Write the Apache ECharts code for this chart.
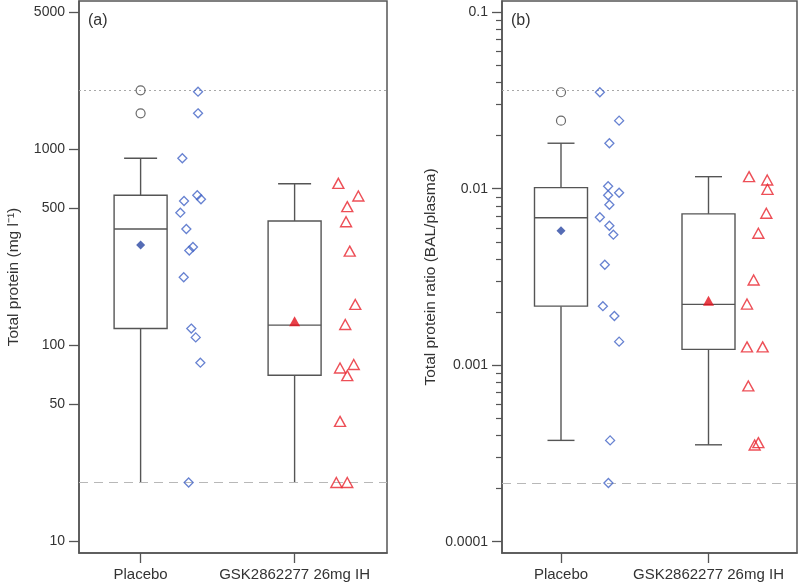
<!DOCTYPE html>
<html><head><meta charset="utf-8">
<script src="https://cdn.jsdelivr.net/npm/echarts@6/dist/echarts.min.js"></script>
<style>html,body{margin:0;padding:0;background:#fff}#c{width:800px;height:583px}</style>
</head><body><div id="c"></div>
<script>
// ---------- data ----------
const categories = ['Placebo', 'GSK2862277 26mg IH'];
const categoryPos = [1, 2];

// Panel (a): total protein (mg l-1)
const aTicks = [10, 50, 100, 500, 1000, 5000];
// [lower whisker, Q1, median, Q3, upper whisker]
const aBoxPlacebo = [20, 122, 393, 584, 902];
const aBoxGSK = [20, 70.5, 127, 432, 669];
const aMean = [326, 133];
const aOutliersPlacebo = [2005, 1530];
const aPlacebo = [1972, 1530, 902, 584, 557, 546, 476, 393, 318, 305, 223, 122, 110, 81.7, 20];
const aPlaceboJitter = [0.373, 0.373, 0.271, 0.368, 0.392, 0.282, 0.258, 0.297, 0.340, 0.316, 0.280, 0.329, 0.358, 0.388, 0.312];
const aGSK = [672, 579, 511, 428, 303, 162, 128, 80, 76.8, 70.2, 41, 20, 20];
const aGSKJitter = [0.284, 0.414, 0.342, 0.334, 0.358, 0.394, 0.329, 0.384, 0.295, 0.342, 0.295, 0.271, 0.342];
const aUpperLimit = 2000;
const aLowerLimit = 20;

// Panel (b): total protein ratio (BAL/plasma)
const bTicks = [0.0001, 0.001, 0.01, 0.1];
const bMinorTicks = [0.0002, 0.0003, 0.0004, 0.0005, 0.0006, 0.0007, 0.0008, 0.0009,
                     0.002, 0.003, 0.004, 0.005, 0.006, 0.007, 0.008, 0.009,
                     0.02, 0.03, 0.04, 0.05, 0.06, 0.07, 0.08, 0.09];
const bBoxPlacebo = [0.000375, 0.00216, 0.00685, 0.01014, 0.0181];
const bBoxGSK = [0.000354, 0.00123, 0.00221, 0.0072, 0.0117];
const bMean = [0.00578, 0.00232];
const bOutliersPlacebo = [0.0352, 0.0243];
const bPlacebo = [0.0352, 0.0243, 0.0181, 0.01032, 0.00949, 0.00918, 0.00811, 0.00689, 0.00617, 0.00549, 0.00371, 0.00216, 0.0019, 0.00136, 0.000375, 0.000215];
const bPlaceboJitter = [0.2635, 0.394, 0.328, 0.3195, 0.394, 0.3195, 0.328, 0.2635, 0.328, 0.355, 0.297, 0.284, 0.362, 0.394, 0.333, 0.3215];
const bGSK = [0.0117, 0.0112, 0.00992, 0.00726, 0.00559, 0.00304, 0.00222, 0.00127, 0.00127, 0.000763, 0.000364, 0.000353];
const bGSKJitter = [0.275, 0.398, 0.400, 0.392, 0.338, 0.306, 0.261, 0.261, 0.367, 0.270, 0.338, 0.313];
const bUpperLimit = 0.036;
const bLowerLimit = 0.000215;

// ---------- helpers ----------
const L = Math.log10;
const TXT = '#333';
const LINE = '#555';
const BLUE = '#4163c6';
const RED = '#e8232d';
const FONT = '"Liberation Sans", Arial, sans-serif';

function pts(vals, jit, base) { return vals.map((v, i) => [base + jit[i], L(v)]); }
function boxRow(x, arr) { return [x].concat(arr.map(L)); }
function labelFor(ticks) {
  return function (v) {
    let best = ticks[0];
    for (const t of ticks) if (Math.abs(L(t) - v) < Math.abs(L(best) - v)) best = t;
    return String(best);
  };
}
function boxRender(capW, lowCap) {
  return function (params, api) {
    const x = api.value(0);
    const pLo = api.coord([x, api.value(1)]);
    const pQ1 = api.coord([x, api.value(2)]);
    const pMed = api.coord([x, api.value(3)]);
    const pQ3 = api.coord([x, api.value(4)]);
    const pHi = api.coord([x, api.value(5)]);
    const cx = pLo[0], hw = 26.5, cw = capW / 2;
    const st = { stroke: LINE, lineWidth: 1.4, fill: null };
    const ch = [
      { type: 'line', shape: { x1: cx, y1: pQ3[1], x2: cx, y2: pHi[1] }, style: st },
      { type: 'line', shape: { x1: cx, y1: pQ1[1], x2: cx, y2: pLo[1] }, style: st },
      { type: 'line', shape: { x1: cx - cw, y1: pHi[1], x2: cx + cw, y2: pHi[1] }, style: st },
      { type: 'rect', shape: { x: cx - hw, y: pQ3[1], width: 2 * hw, height: pQ1[1] - pQ3[1] }, style: { stroke: LINE, lineWidth: 1.4, fill: '#fff' } },
      { type: 'line', shape: { x1: cx - hw, y1: pMed[1], x2: cx + hw, y2: pMed[1] }, style: st }
    ];
    if (lowCap) ch.push({ type: 'line', shape: { x1: cx - cw, y1: pLo[1], x2: cx + cw, y2: pLo[1] }, style: st });
    return { type: 'group', children: ch };
  };
}
function refLines(upper, lower) {
  return {
    silent: true, symbol: 'none', label: { show: false },
    data: [
      { yAxis: L(upper), lineStyle: { type: [2, 3], color: '#a8a8a8', width: 1 } },
      { yAxis: L(lower), lineStyle: { type: [9, 6], color: '#b8b8b8', width: 1 } }
    ]
  };
}
function xAxis(gi) {
  return {
    type: 'value', gridIndex: gi, min: 0.6, max: 2.6,
    axisLine: { show: true, lineStyle: { color: LINE, width: 1.5 } },
    axisTick: { show: true, customValues: categoryPos, length: 10, lineStyle: { color: LINE, width: 1.3 } },
    axisLabel: { customValues: categoryPos, margin: 14, color: TXT, fontSize: 15, fontFamily: FONT,
      formatter: v => categories[Math.round(v) - 1] || '' },
    splitLine: { show: false }
  };
}

const chart = echarts.init(document.getElementById('c'), null, { renderer: 'canvas' });
const option = {
  animation: false,
  backgroundColor: '#fff',
  textStyle: { fontFamily: FONT },
  title: [
    { text: '(a)', left: 83, top: 8, textStyle: { fontSize: 16, fontWeight: 'normal', color: TXT, fontFamily: FONT } },
    { text: '(b)', left: 506, top: 8, textStyle: { fontSize: 16, fontWeight: 'normal', color: TXT, fontFamily: FONT } }
  ],
  grid: [
    { left: 79, right: 413, top: 1, bottom: 30, show: true, borderColor: LINE, borderWidth: 1.5, backgroundColor: 'transparent' },
    { left: 502, right: 3, top: 1, bottom: 30, show: true, borderColor: LINE, borderWidth: 1.5, backgroundColor: 'transparent' }
  ],
  xAxis: [xAxis(0), xAxis(1)],
  yAxis: [
    {
      type: 'value', gridIndex: 0, position: 'left', min: 0.9413, max: 3.7577,
      name: 'Total protein (mg l\u207B\u00B9)', nameLocation: 'middle', nameGap: 57,
      nameTextStyle: { fontSize: 15.5, color: TXT, fontFamily: FONT },
      axisLine: { show: true, lineStyle: { color: LINE, width: 1.5 } },
      axisTick: { show: true, customValues: aTicks.map(L), length: 10, lineStyle: { color: LINE, width: 1.3 } },
      axisLabel: { customValues: aTicks.map(L), margin: 14, color: TXT, fontSize: 14, fontFamily: FONT, formatter: labelFor(aTicks) },
      splitLine: { show: false }
    },
    {
      type: 'value', gridIndex: 1, position: 'left', min: -4.064, max: -0.9365,
      name: 'Total protein ratio (BAL/plasma)', nameLocation: 'middle', nameGap: 63,
      nameTextStyle: { fontSize: 15.5, color: TXT, fontFamily: FONT },
      axisLine: { show: true, lineStyle: { color: LINE, width: 1.5 } },
      axisTick: { show: true, customValues: bTicks.map(L), length: 10, lineStyle: { color: LINE, width: 1.3 } },
      axisLabel: { customValues: bTicks.map(L), margin: 14, color: TXT, fontSize: 14, fontFamily: FONT, formatter: labelFor(bTicks) },
      splitLine: { show: false }
    },
    {
      type: 'value', gridIndex: 1, position: 'left', offset: 0, min: -4.064, max: -0.9365,
      axisLine: { show: false },
      axisTick: { show: true, customValues: bMinorTicks.map(L), length: 6, lineStyle: { color: LINE, width: 1.2 } },
      axisLabel: { show: false, customValues: bMinorTicks.map(L) },
      splitLine: { show: false }
    }
  ],
  series: [
    // ----- panel (a) -----
    {
      type: 'custom', xAxisIndex: 0, yAxisIndex: 0, z: 2,
      renderItem: boxRender(33, false),
      encode: { x: 0, y: [1, 2, 3, 4, 5] },
      data: [boxRow(categoryPos[0], aBoxPlacebo), boxRow(categoryPos[1], aBoxGSK)],
      markLine: refLines(aUpperLimit, aLowerLimit)
    },
    { type: 'scatter', xAxisIndex: 0, yAxisIndex: 0, z: 5, symbol: 'circle', symbolSize: 9,
      itemStyle: { color: 'rgba(0,0,0,0)', borderColor: '#444', borderWidth: 1.2 },
      data: aOutliersPlacebo.map(v => [categoryPos[0], L(v)]) },
    { type: 'scatter', xAxisIndex: 0, yAxisIndex: 0, z: 5, symbol: 'diamond', symbolSize: 9,
      itemStyle: { color: '#2b47a3' }, data: [[categoryPos[0], L(aMean[0])]] },
    { type: 'scatter', xAxisIndex: 0, yAxisIndex: 0, z: 5, symbol: 'triangle', symbolSize: [11, 10],
      itemStyle: { color: '#e3101b' }, data: [[categoryPos[1], L(aMean[1])]] },
    { type: 'scatter', xAxisIndex: 0, yAxisIndex: 0, z: 5, symbol: 'diamond', symbolSize: 9,
      itemStyle: { color: 'rgba(0,0,0,0)', borderColor: BLUE, borderWidth: 1.3 },
      data: pts(aPlacebo, aPlaceboJitter, categoryPos[0]) },
    { type: 'scatter', xAxisIndex: 0, yAxisIndex: 0, z: 5, symbol: 'triangle', symbolSize: [11, 10],
      itemStyle: { color: 'rgba(0,0,0,0)', borderColor: RED, borderWidth: 1.4 },
      data: pts(aGSK, aGSKJitter, categoryPos[1]) },
    // ----- panel (b) -----
    {
      type: 'custom', xAxisIndex: 1, yAxisIndex: 1, z: 2,
      renderItem: boxRender(27, true),
      encode: { x: 0, y: [1, 2, 3, 4, 5] },
      data: [boxRow(categoryPos[0], bBoxPlacebo), boxRow(categoryPos[1], bBoxGSK)],
      markLine: refLines(bUpperLimit, bLowerLimit)
    },
    { type: 'scatter', xAxisIndex: 1, yAxisIndex: 1, z: 5, symbol: 'circle', symbolSize: 9,
      itemStyle: { color: 'rgba(0,0,0,0)', borderColor: '#444', borderWidth: 1.2 },
      data: bOutliersPlacebo.map(v => [categoryPos[0], L(v)]) },
    { type: 'scatter', xAxisIndex: 1, yAxisIndex: 1, z: 5, symbol: 'diamond', symbolSize: 9,
      itemStyle: { color: '#2b47a3' }, data: [[categoryPos[0], L(bMean[0])]] },
    { type: 'scatter', xAxisIndex: 1, yAxisIndex: 1, z: 5, symbol: 'triangle', symbolSize: [11, 10],
      itemStyle: { color: '#e3101b' }, data: [[categoryPos[1], L(bMean[1])]] },
    { type: 'scatter', xAxisIndex: 1, yAxisIndex: 1, z: 5, symbol: 'diamond', symbolSize: 9,
      itemStyle: { color: 'rgba(0,0,0,0)', borderColor: BLUE, borderWidth: 1.3 },
      data: pts(bPlacebo, bPlaceboJitter, categoryPos[0]) },
    { type: 'scatter', xAxisIndex: 1, yAxisIndex: 1, z: 5, symbol: 'triangle', symbolSize: [11, 10],
      itemStyle: { color: 'rgba(0,0,0,0)', borderColor: RED, borderWidth: 1.4 },
      data: pts(bGSK, bGSKJitter, categoryPos[1]) }
  ]
};
chart.setOption(option);
</script>
</body></html>
